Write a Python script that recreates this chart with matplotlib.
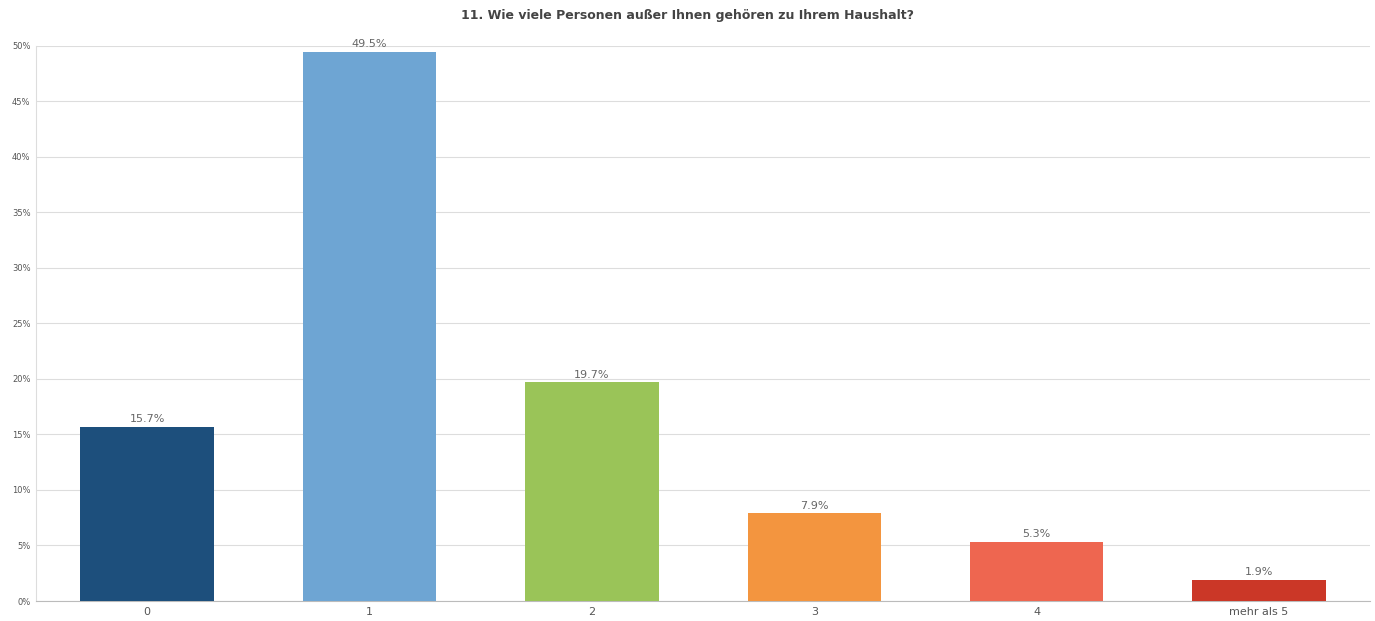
import matplotlib
matplotlib.use("Agg")
import matplotlib.pyplot as plt

categories = ["0", "1", "2", "3", "4", "mehr als 5"]
values = [15.7, 49.5, 19.7, 7.9, 5.3, 1.9]
colors = ["#1D4F7C", "#6EA5D3", "#9AC458", "#F3953F", "#EE6650", "#CB3727"]
yticks = [0, 5, 10, 15, 20, 25, 30, 35, 40, 45, 50]

fig = plt.figure(figsize=(13.75, 6.21), dpi=100)
ax = fig.add_axes([0.0262, 0.0322, 0.9702, 0.8938])

x = range(len(categories))
ax.bar(x, values, 0.6, color=colors, zorder=3)
for i, v in enumerate(values):
    ax.text(i, v + 0.25, f"{v:.1f}%", ha="center", va="bottom",
            fontsize=8, color="#666666", zorder=4)

ax.set_xlim(-0.5, len(categories) - 0.5)
ax.set_ylim(0, 50)
ax.set_yticks(yticks)
ax.set_yticklabels([f"{t}%" for t in yticks], fontsize=6, color="#555555")
ax.set_xticks(list(x))
ax.set_xticklabels(categories, fontsize=8, color="#555555")
ax.tick_params(axis="both", length=0, pad=4)
ax.grid(axis="y", color="#dddddd", lw=0.8, zorder=0)

for s in ["top", "right"]:
    ax.spines[s].set_visible(False)
ax.spines["left"].set_color("#dddddd")
ax.spines["bottom"].set_color("#bbbbbb")

fig.suptitle("11. Wie viele Personen außer Ihnen gehören zu Ihrem Haushalt?",
             x=0.5, y=0.985, fontsize=9, fontweight="bold", color="#444444")

fig.savefig("out.png", dpi=100)
